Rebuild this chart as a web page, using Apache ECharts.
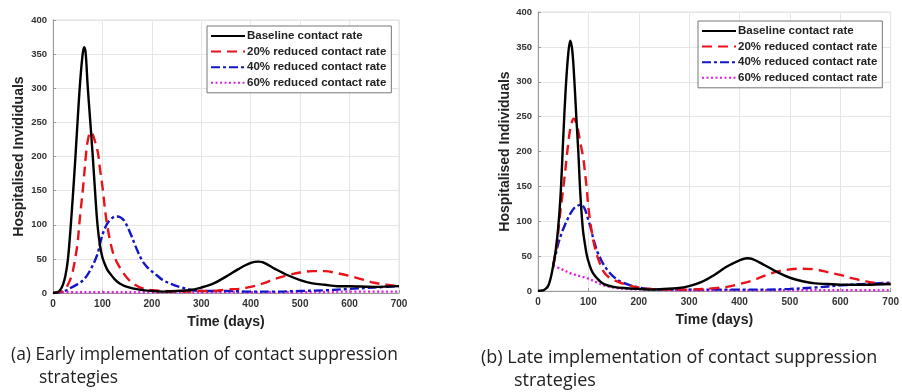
<!DOCTYPE html>
<html><head><meta charset="utf-8">
<script src="https://cdn.jsdelivr.net/npm/echarts@6/dist/echarts.min.js"></script>
<style>html,body{margin:0;padding:0;background:#fff}#c{width:902px;height:392px}</style>
</head><body><div id="c"></div>
<script>
// ---- data (days, hospitalised individuals) ----
var seriesNames = ["Baseline contact rate", "20% reduced contact rate", "40% reduced contact rate", "60% reduced contact rate"];
var xTicks = [0, 100, 200, 300, 400, 500, 600, 700];
var yTicks = [0, 50, 100, 150, 200, 250, 300, 350, 400];

// (a) early implementation
var aBaseDays = [0,5,10,15,20,25,30,35,40,45,50,55,60,63,66,70,75,80,85,90,95,100,105,110,115,125,135,150,175,200,225,250,275,300,325,350,375,400,415,425,450,475,500,525,550,575,600,650,700];
var aBaseVals = [0,0.5,1.5,5,12,25,48,90,140,195,255,310,350,360,352,305,255,205,150,100,70,52,42,34,29,20,14,9,5,3,2,3,4,8,14,24,35,44,46,45,35,26,19,14,12,10,10,9,10];
var a20Days = [0,10,20,25,30,35,40,46,50,54,58,61,67,70,76,80,85,91,95,100,104,108,115,121,126,130,138,150,162,180,200,225,250,275,300,325,350,375,400,425,450,475,500,525,550,575,600,625,650,675,700];
var a20Vals = [0,1,3,6,12,20,32,55,75,107,135,156,205,222,236,233,222,205,182,156,130,107,78,60,50,44,34,22,14,7,4,3,2,2,3,3,5,6,9,14,21,26,30,32,32,29,25,20,15,12,10];
var a40Days = [0,20,40,50,60,70,80,90,95,100,105,110,115,120,125,131,136,140,145,150,158,165,172,180,188,196,210,222,240,256,283,300,350,400,450,500,550,600,650,700];
var a40Vals = [0,2,9,13,18,27,40,57,72,85,95,102,107,110,112,112,111,109,105,98,85,72,60,48,40,34,26,19,13,9,4,3,3,2,2,3,4,6,8,10];
var a60Days = [0,25,100,200,300,400,500,600,700];
var a60Vals = [0,1,1,1,1,1,1,2,2];

// (b) late implementation
var bBaseDays = [0,5,10,15,20,25,30,35,40,45,50,55,60,64,68,72,76,80,84,89,93,97,102,108,115,123,131,150,175,200,225,250,275,300,325,350,375,400,415,425,450,475,500,525,550,575,600,650,700];
var bBaseVals = [0,0.5,1,3,7,18,36,58,90,140,218,290,340,359,345,304,250,200,140,89,68,51,38,27,20,14,10,6,4,3,2,3,4,7,13,23,35,44,47,46,37,27,19,14,11,10,9,9,10];
var b20Days = [30,35,38,43,48,53,59,65,71,78,85,90,94,97,100,103,106,112,120,131,140,150,171,200,225,250,300,350,375,400,425,450,475,500,525,550,575,600,625,650,675,700];
var b20Vals = [36,55,68,105,135,165,205,236,247,235,209,190,165,145,120,103,88,65,45,27,20,16,10,5,3,2,2,4,6,10,15,22,28,31,32,31,27,23,18,14,11,10];
var b40Days = [30,35,41,47,53,60,66,72,78,85,92,99,104,108,113,118,125,131,140,151,165,184,200,217,250,300,350,400,450,500,550,600,650,700];
var b40Vals = [36,52,70,83,94,105,113,119,122,124,119,104,92,80,67,56,45,37,28,20,13,8,5,3,2,2,2,2,2,3,5,8,10,12];
var b60Days = [30,45,66,85,99,115,131,150,175,225,300,400,500,600,700];
var b60Vals = [36,32,25,21,18,13,8,5,3,2,1,1,1,1,1];

var captionA = ["(a) Early implementation of contact suppression", "strategies"];
var captionB = ["(b) Late implementation of contact suppression", "strategies"];
var yTitleA = "Hospitalised Invididuals";
var yTitleB = "Hospitalised Individuals";
var xTitle = "Time (days)";

function pairs(d, v) { return d.map(function (t, i) { return [t, v[i]]; }); }

var colors = ["#000000", "#e8121b", "#1414c8", "#e020e0"];
var types = ["solid", [10, 6], [9, 3, 3, 3], [2, 2.5]];

function mkSeries(gi, dataSets) {
  return dataSets.map(function (ds, i) {
    return {
      type: "line", name: seriesNames[i], xAxisIndex: gi, yAxisIndex: gi,
      data: ds, showSymbol: false, symbol: "none", smooth: 0.35,
      lineStyle: { color: colors[i], width: 2.4, type: types[i] },
      itemStyle: { color: colors[i] }, z: 10 - i, animation: false
    };
  });
}

var lblFont = "Liberation Sans";
function xAx(gi) {
  return {
    type: "value", gridIndex: gi, min: 0, max: 700, interval: 100,
    name: xTitle, nameLocation: "middle", nameGap: 22,
    nameTextStyle: { fontFamily: lblFont, fontWeight: "bold", fontSize: 14, color: "#222" },
    axisLine: { show: true, lineStyle: { color: "#999" } },
    axisTick: { show: true, inside: true, length: 3, lineStyle: { color: "#999" } },
    axisLabel: { fontFamily: lblFont, fontWeight: "bold", fontSize: 10, color: "#333", margin: 6,
      formatter: function (v) { return xTicks.indexOf(v) >= 0 ? String(v) : ""; } },
    splitLine: { show: true, lineStyle: { color: "#e6e6e6", width: 1 } }
  };
}
function yAx(gi, title, gap) {
  return {
    type: "value", gridIndex: gi, min: 0, max: 400, interval: 50,
    name: title, nameLocation: "middle", nameGap: gap, nameRotate: 90,
    nameTextStyle: { fontFamily: lblFont, fontWeight: "bold", fontSize: 14, color: "#222" },
    axisLine: { show: true, lineStyle: { color: "#999" } },
    axisTick: { show: true, inside: true, length: 3, lineStyle: { color: "#999" } },
    axisLabel: { fontFamily: lblFont, fontWeight: "bold", fontSize: 9.5, color: "#333", margin: 6,
      formatter: function (v) { return yTicks.indexOf(v) >= 0 ? String(v) : ""; } },
    splitLine: { show: true, lineStyle: { color: "#e6e6e6", width: 1 } }
  };
}
function legend(left, top) {
  return {
    data: seriesNames, orient: "vertical", left: left, top: top,
    itemWidth: 34, itemHeight: 12, itemGap: 3.6,
    padding: [4, 5, 4, 3], borderColor: "#777", borderWidth: 1, backgroundColor: "#fff",
    selectedMode: false, itemStyle: { opacity: 0 },
    textStyle: { fontFamily: lblFont, fontWeight: "bold", fontSize: 11.5, color: "#222", padding: [0, 0, 0, -3] }
  };
}

var chart = echarts.init(document.getElementById("c"), null, { renderer: "canvas" });
var capFont = "Open Sans";
chart.setOption({
  animation: false,
  grid: [
    { left: 53, top: 20, width: 346, height: 273, show: true, borderColor: "#dcdcdc", borderWidth: 1 },
    { left: 538, top: 12, width: 355, height: 279, show: true, borderColor: "#dcdcdc", borderWidth: 1 }
  ],
  xAxis: [xAx(0), xAx(1)],
  yAxis: [yAx(0, yTitleA, 27), yAx(1, yTitleB, 25)],
  legend: [legend(207, 26), legend(698, 21)],
  series: mkSeries(0, [pairs(aBaseDays, aBaseVals), pairs(a20Days, a20Vals), pairs(a40Days, a40Vals), pairs(a60Days, a60Vals)])
    .concat(mkSeries(1, [pairs(bBaseDays, bBaseVals), pairs(b20Days, b20Vals), pairs(b40Days, b40Vals), pairs(b60Days, b60Vals)])),
  graphic: [
    { type: "text", left: 11, top: 347, style: { text: captionA[0], fontFamily: capFont, fontSize: 17.4, fill: "#222" } },
    { type: "text", left: 39, top: 370, style: { text: captionA[1], fontFamily: capFont, fontSize: 17.4, fill: "#222" } },
    { type: "text", left: 481, top: 349, style: { text: captionB[0], fontFamily: capFont, fontSize: 18, fill: "#222" } },
    { type: "text", left: 514, top: 372, style: { text: captionB[1], fontFamily: capFont, fontSize: 18, fill: "#222" } }
  ]
});
</script></body></html>
